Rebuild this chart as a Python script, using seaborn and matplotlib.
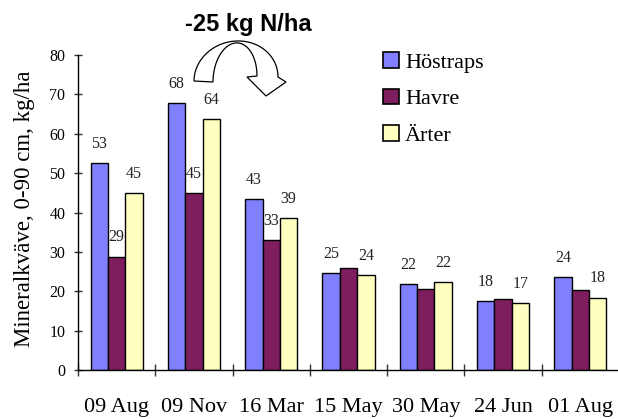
import numpy as np
import pandas as pd
import matplotlib
matplotlib.use("Agg")
import matplotlib.pyplot as plt
from matplotlib.patches import Patch, Polygon
import seaborn as sns

datum = ["09 Aug", "09 Nov", "16 Mar", "15 May", "30 May", "24 Jun", "01 Aug"]
grodor = ["Höstraps", "Havre", "Ärter"]
hostraps = [52.6, 67.9, 43.4, 24.6, 21.9, 17.5, 23.5]
havre = [28.8, 45.0, 32.9, 26.0, 20.6, 18.1, 20.4]
arter = [45.0, 63.8, 38.6, 24.2, 22.3, 16.9, 18.4]
# Havre only labelled for the first three dates in the original
havre_visas = [True, True, True, False, False, False, False]
farger = ["#8080FF", "#7E1E5E", "#FFFFC0"]

df = pd.DataFrame({
    "datum": datum * 3,
    "groda": [g for g in grodor for _ in datum],
    "varde": hostraps + havre + arter,
})

sns.set_theme(style="white")
plt.rcParams["font.family"] = ["Liberation Serif", "DejaVu Serif"]
plt.rcParams["text.color"] = "black"
plt.rcParams["xtick.color"] = "black"
plt.rcParams["ytick.color"] = "black"
plt.rcParams["axes.labelcolor"] = "black"

W, H = 618, 419
fig = plt.figure(figsize=(W / 100, H / 100), dpi=100)
ax = fig.add_axes([78 / W, 49 / H, 541 / W, 315 / H])

sns.barplot(data=df, x="datum", y="varde", hue="groda", order=datum, hue_order=grodor,
            palette=farger, width=0.675, edgecolor="black", linewidth=1,
            saturation=1, legend=False, ax=ax)

etiketter = [
    [f"{v:.0f}" for v in hostraps],
    [f"{v:.0f}" if s else "" for v, s in zip(havre, havre_visas)],
    [f"{v:.0f}" for v in arter],
]
for cont, lab in zip(ax.containers, etiketter):
    ax.bar_label(cont, labels=lab, padding=8, fontsize=11.5, color="#222222")

ax.set_ylim(0, 80)
ax.set_xlim(-0.5, len(datum) - 0.5)
ax.set_yticks(range(0, 81, 10))
ax.set_xticks(np.arange(-0.5, len(datum), 1), minor=True)
ax.tick_params(axis="x", which="major", bottom=True, length=0, pad=20, labelsize=16)
ax.tick_params(axis="x", which="minor", bottom=True, direction="inout", length=9, width=1, color="#333333")
ax.tick_params(axis="y", left=True, direction="inout", length=6, width=1, color="#333333", pad=6, labelsize=11.5)
ax.set_xlabel("")
ax.set_ylabel("Mineralkväve, 0-90 cm, kg/ha", fontsize=16.5)
ax.yaxis.set_label_coords(-0.08, 0.513)
for s in ["top", "right"]:
    ax.spines[s].set_visible(False)
for s in ["left", "bottom"]:
    ax.spines[s].set_color("black")
    ax.spines[s].set_linewidth(1)

handles = [Patch(facecolor=c, edgecolor="black", linewidth=1.2) for c in farger]
fig.legend(handles, grodor, loc="upper left", bbox_to_anchor=(383 / W, 1 - 52 / H),
           frameon=False, fontsize=16, handlelength=0.7, handleheight=0.7,
           handletextpad=0.3, labelspacing=0.72, borderpad=0, borderaxespad=0)

fig.text(248 / W, 1 - 25 / H, "-25 kg N/ha", ha="center", va="center",
         fontsize=17, fontweight="bold", family="Liberation Sans")

# curved block arrow (pixel coords, y down)
t = np.linspace(np.pi, 0, 40)
yttre = np.column_stack([236 + 42 * np.cos(t), 79 - 38 * np.sin(t) + 2 * np.cos(t) * -1])
inre = np.column_stack([235 + 22 * np.cos(t), 79 - 36 * np.sin(t) + 3 * np.cos(t) * -1])[::-1]
spets = np.array([[286, 82], [266, 96], [247, 77]])
pts = np.vstack([yttre, spets, inre])
pts = np.column_stack([pts[:, 0] / W, 1 - pts[:, 1] / H])
fig.patches.append(Polygon(pts, closed=True, transform=fig.transFigure,
                           facecolor="white", edgecolor="black", lw=0.9))

fig.savefig("out.png", dpi=100)
